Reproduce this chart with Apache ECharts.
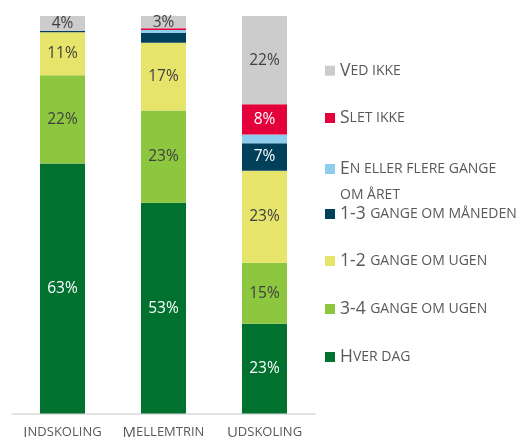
<!DOCTYPE html>
<html>
<head>
<meta charset="utf-8">
<script src="https://cdn.jsdelivr.net/npm/echarts@6/dist/echarts.min.js"></script>
<style>
	html, body { margin: 0; padding: 0; background: #fff; }
	#chart { width: 528px; height: 448px; }
</style>
</head>
<body>
<div id="chart"></div>
<script>
// data (percent)
const categories = ['Indskoling', 'Mellemtrin', 'Udskoling'];
const hverDag = [62.9, 53.0, 22.6];
const treFire = [22.2, 23.2, 15.3];
const enTo = [10.8, 17.1, 23.2];
const maaned = [0.3, 2.5, 6.9];
const aaret = [0, 0.7, 2.2];
const sletIkke = [0, 0.4, 7.6];
const vedIkke = [3.8, 3.1, 22.2];

const seriesNames = ['Hver dag', '3-4 gange om ugen', '1-2 gange om ugen', '1-3 gange om måneden', 'En eller flere gange om året', 'Slet ikke', 'Ved ikke'];
const seriesData = [hverDag, treFire, enTo, maaned, aaret, sletIkke, vedIkke];
const colors = ['#00712F', '#8DC63F', '#E6E46B', '#00405B', '#8ECDEE', '#E4003A', '#CCCCCC'];
const labelColors = ['#fff', '#404040', '#404040', '#fff', '#404040', '#fff', '#404040'];
// legend item centre (y)
const legendY = [358, 310, 262, 215, 167, 119, 71.7];

const FONT = '"Open Sans", sans-serif';

// fake small caps: capitals/digits big, lower case letters as small upper case
function smallCaps(text) {
	let out = '';
	let cur = null;
	let buf = '';
	for (const ch of text) {
		const lower = ch !== ch.toUpperCase();
		const cls = lower ? 's' : (ch === ' ' ? (cur || 'b') : 'b');
		if (cls !== cur && buf) {
			out += '{' + cur + '|' + buf + '}';
			buf = '';
		}
		cur = cls;
		buf += lower ? ch.toUpperCase() : ch;
	}
	if (buf) out += '{' + cur + '|' + buf + '}';
	return out;
}

const chart = echarts.init(document.getElementById('chart'));

const legends = seriesNames.map((name, i) => {
	const twoLine = name === 'En eller flere gange om året';
	return {
		data: [name],
		orient: 'vertical',
		left: 325,
		top: twoLine ? legendY[i] - 31 : legendY[i] - 10,
		padding: 0,
		itemWidth: 10,
		itemHeight: 10,
		icon: 'rect',
		selectedMode: false,
		formatter: function (n) {
			if (n === 'En eller flere gange om året') {
				return '{e| }\n' + smallCaps('En eller flere gange') + '\n' + smallCaps('om året');
			}
			return smallCaps(n);
		},
		textStyle: {
			color: '#595959',
			fontFamily: FONT,
			rich: {
				b: { fontSize: 17.5, fontFamily: FONT, color: '#595959', lineHeight: twoLine ? 26 : 20 },
				s: { fontSize: 14, fontFamily: FONT, color: '#595959', lineHeight: twoLine ? 26 : 20 },
				e: { fontSize: 14, lineHeight: 26 }
			}
		}
	};
});

const series = seriesNames.map((name, i) => ({
	name: name,
	type: 'bar',
	stack: 'total',
	barWidth: 45,
	data: seriesData[i],
	itemStyle: { color: colors[i] },
	label: {
		show: true,
		position: 'inside',
		color: labelColors[i],
		fontFamily: FONT,
		fontSize: 15.5,
		formatter: function (p) {
			return p.value >= 3 ? Math.round(p.value) + '%' : '';
		}
	}
}));

chart.setOption({
	animation: false,
	grid: { left: 12, width: 303, top: 16, bottom: 34.5, containLabel: false },
	legend: legends,
	xAxis: {
		type: 'category',
		data: categories,
		axisTick: { show: false },
		axisLine: { lineStyle: { color: '#D9D9D9', width: 1.5 } },
		axisLabel: {
			interval: 0,
			margin: 11,
			formatter: function (v) { return smallCaps(v); },
			rich: {
				b: { fontSize: 15, fontFamily: FONT, color: '#595959', lineHeight: 16 },
				s: { fontSize: 13, fontFamily: FONT, color: '#595959', lineHeight: 16 }
			}
		}
	},
	yAxis: { type: 'value', min: 0, max: 100, show: false },
	series: series
});
</script>
</body>
</html>
